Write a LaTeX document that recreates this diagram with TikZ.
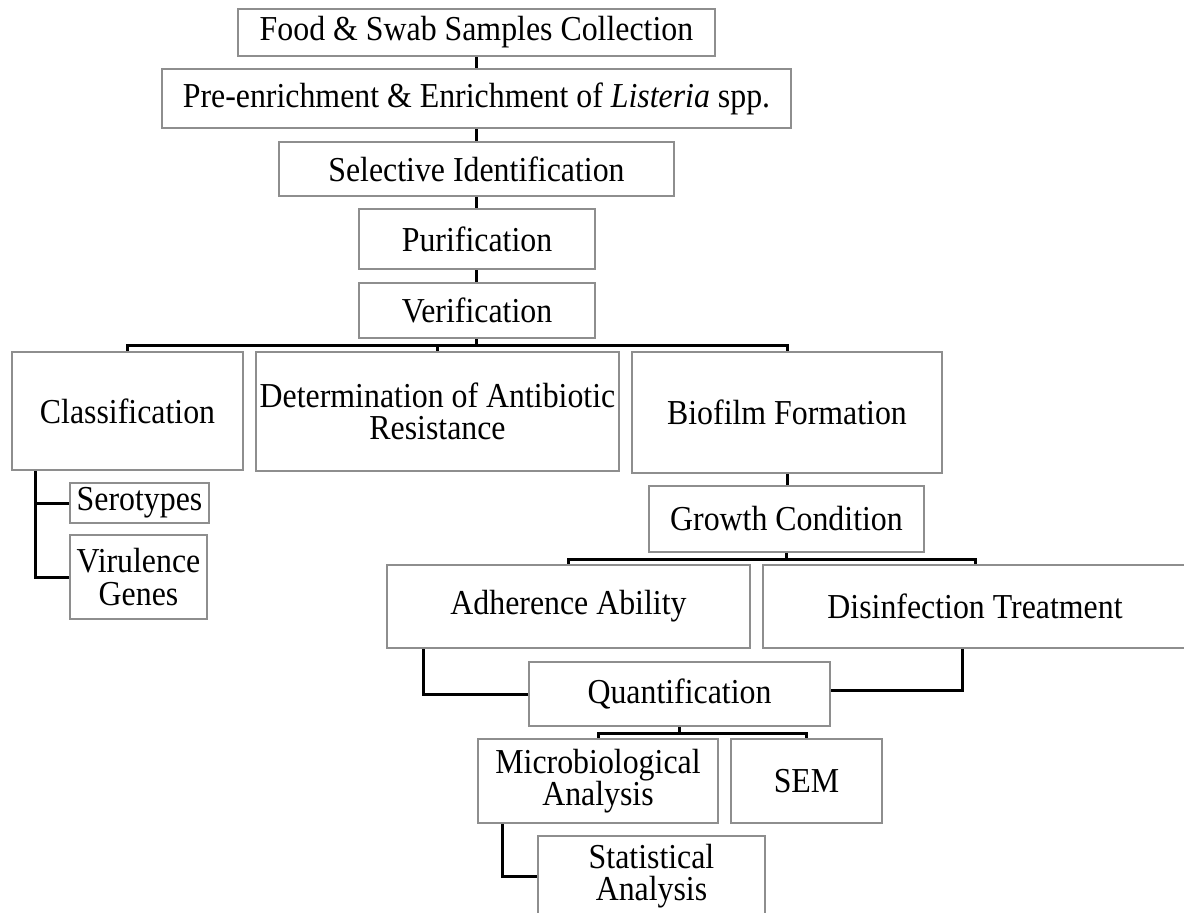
\documentclass[tikz,border=0pt]{standalone}
\usepackage{fontspec}
\setmainfont{Liberation Serif}[FakeStretch=0.91]
\usetikzlibrary{calc}
\definecolor{boxgray}{HTML}{8E8E8E}
\tikzset{
  box/.style={draw=boxgray, line width=1.4pt, rectangle, inner sep=0pt, align=center,
    font=\fontsize{35}{32.5}\selectfont, text=black, fill=white},
  conn/.style={draw=black, line width=3pt, line cap=rect}
}
\begin{document}
\begin{tikzpicture}[x=1pt,y=-1pt]
\useasboundingbox (0,0) rectangle (1184,913);
\clip (0,0) rectangle (1184,913);
\fill[white] (0,0) rectangle (1184,913);

% coordinates for buses and branch points
\coordinate (bus1) at (476.5,345);
\coordinate (bus2) at (786.5,559);
\coordinate (bus3) at (679.5,733);
\coordinate (c1) at (35,470);
\coordinate (a1) at (423,648);
\coordinate (d1) at (962,648);
\coordinate (m1) at (502,823);

% connectors (drawn first, boxes on top)
\draw[conn] (476.5,56) -- (476.5,69);
\draw[conn] (476.5,128) -- (476.5,142);
\draw[conn] (476.5,196) -- (476.5,209);
\draw[conn] (476.5,269) -- (476.5,283);
\draw[conn] (476.5,338) -- (bus1);
\draw[conn] (127.5,352) |- (bus1) -| (787,352);
\draw[conn] (437.5,352) -- (437.5,345);
\draw[conn] (787,473) -- (787,486);
\draw[conn] (bus2) -- (786.5,552);
\draw[conn] (568.5,565) |- (bus2) -| (975,565);
\draw[conn] (c1) |- (70,577);
\draw[conn] (35,503) -- (70,503);
\draw[conn] (a1) |- (529,694);
\draw[conn] (d1) |- (830,690);
\draw[conn] (bus3) -- (679.5,726);
\draw[conn] (598,739) |- (bus3) -| (806.5,739);
\draw[conn] (m1) |- (538,876);

% boxes
\node[box, minimum width=477pt, minimum height=47pt] (food) at (476.5,32.5) {Food \& Swab Samples Collection};
\node[box, minimum width=629pt, minimum height=59pt] (pre) at (476.5,98.5) {Pre-enrichment \& Enrichment of \textit{Listeria} spp.};
\node[box, minimum width=395pt, minimum height=54pt] (sel) at (476.5,169) {Selective Identification};
\node[box, minimum width=236pt, minimum height=60pt] (pur) at (477,239) {Purification};
\node[box, minimum width=236pt, minimum height=55pt] (ver) at (477,310.5) {Verification};
\node[box, minimum width=231pt, minimum height=118pt] (cls) at (127.5,411) {Classification};
\node[box, minimum width=363pt, minimum height=119pt] (det) at (437.5,411.5) {Determination of Antibiotic\\Resistance};
\node[box, minimum width=310pt, minimum height=121pt] (bio) at (787,412.5) {Biofilm Formation};
\node[box, minimum width=275pt, minimum height=66pt] (gro) at (786.5,519) {Growth Condition};
\node[box, minimum width=139pt, minimum height=40pt] (sero) at (139.5,503) {Serotypes};
\node[box, minimum width=137pt, minimum height=84pt] (vir) at (138.5,577) {Virulence\\Genes};
\node[box, minimum width=363pt, minimum height=83pt] (adh) at (568.5,606.5) {Adherence Ability};
\node[box, minimum width=424pt, minimum height=83pt] (dis) at (975,606.5) {Disinfection Treatment};
\node[box, minimum width=301pt, minimum height=64pt] (qua) at (679.5,694) {Quantification};
\node[box, minimum width=240pt, minimum height=84pt] (mic) at (598,781) {Microbiological\\Analysis};
\node[box, minimum width=151pt, minimum height=84pt] (sem) at (806.5,781) {SEM};
\node[box, minimum width=227pt, minimum height=80pt] (sta) at (651.5,876) {Statistical\\Analysis};
\end{tikzpicture}
\end{document}
